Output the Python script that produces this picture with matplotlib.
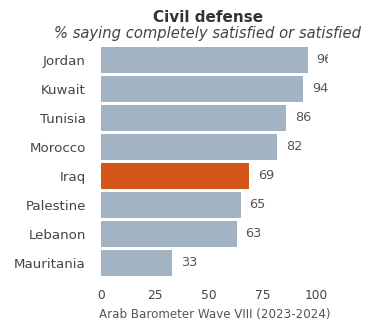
import matplotlib.pyplot as plt

countries = ['Jordan', 'Kuwait', 'Tunisia', 'Morocco', 'Iraq', 'Palestine', 'Lebanon', 'Mauritania']
values = [96, 94, 86, 82, 69, 65, 63, 33]
highlight = 'Iraq'
xticks = [0, 25, 50, 75, 100]

plt.rcParams['font.family'] = ['DejaVu Sans']

fig = plt.figure(figsize=(3.74, 3.2), dpi=100)
ax = fig.add_axes([0.270, 0.133, 0.607, 0.725])

colors = ['#d5561b' if c == highlight else '#a2b4c4' for c in countries]
ypos = list(range(len(countries)))
ax.barh(ypos, values, height=0.87, color=colors)

# value labels next to each bar, clipped at the plot edge
for y, v in zip(ypos, values):
    ax.text(v + 4, y, str(v), va='center', ha='left', fontsize=9.3,
            color='#555555', clip_on=True)

ax.set_xlim(0, 105.5)
ax.set_ylim(len(countries) - 0.5, -0.5)
ax.set_yticks(ypos)
ax.set_yticklabels(countries, fontsize=9.6, color='#444444')
ax.set_xticks(xticks)
ax.set_xticklabels([str(t) for t in xticks], fontsize=8.8, color='#444444')
ax.tick_params(length=0)
ax.tick_params(axis='y', pad=11)
ax.tick_params(axis='x', pad=8)
for s in ax.spines.values():
    s.set_visible(False)

ax.set_xlabel('Arab Barometer Wave VIII (2023-2024)', fontsize=8.6,
              color='#555555', labelpad=5)

fig.text(0.556, 0.944, 'Civil defense', ha='center', va='center',
         fontsize=11, fontweight='bold', color='#333333')
fig.text(0.556, 0.894, '% saying completely satisfied or satisfied',
         ha='center', va='center', fontsize=10.6, style='italic', color='#444444')

fig.savefig('out.png', dpi=100)
